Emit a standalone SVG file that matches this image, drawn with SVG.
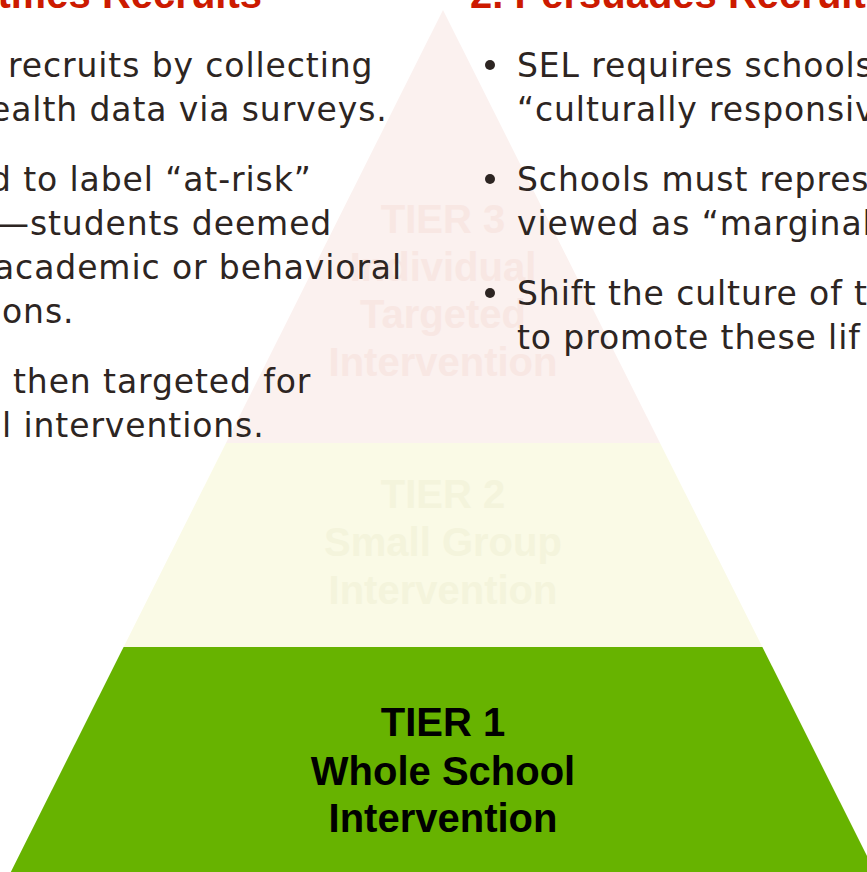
<svg xmlns="http://www.w3.org/2000/svg" width="867" height="872" viewBox="0 0 867 872">
  <style>
    .body { font-family: "DejaVu Sans", "Noto Sans", sans-serif; font-size: 33px; letter-spacing: 0.9px; fill: #2d2522; }
    .head { font-family: "Liberation Sans", Arial, sans-serif; font-weight: bold; font-size: 40px; fill: #cc1a00; }
    .tier { font-family: "Liberation Sans", Arial, sans-serif; font-weight: bold; font-size: 40px; text-anchor: middle; }
    .bullet { fill: #2d2522; }
  </style>
  <rect width="867" height="872" fill="#ffffff"/>

  <g id="tier3">
    <polygon points="443,10 660,443 226,443" fill="#fbf1ef"/>
    <g class="tier" fill="#f8e7e3">
      <text x="443" y="233">TIER 3</text>
      <text x="443" y="280.5">Individual</text>
      <text x="443" y="328">Targeted</text>
      <text x="443" y="375.5">Intervention</text>
    </g>
  </g>

  <g id="tier2">
    <polygon points="226,443 660,443 762.4,647 123.6,647" fill="#fafae6"/>
    <g class="tier" fill="#f4f4dc">
      <text x="443" y="508">TIER 2</text>
      <text x="443" y="556">Small Group</text>
      <text x="443" y="604">Intervention</text>
    </g>
  </g>

  <g id="tier1">
    <polygon points="123.6,647 762.4,647 875,872 10.8,872" fill="#67b300"/>
    <g class="tier" fill="#000000">
      <text x="443" y="736">TIER 1</text>
      <text x="443" y="784.5">Whole School</text>
      <text x="443" y="832">Intervention</text>
    </g>
  </g>

  <g id="left-column">
    <text class="head" x="262" y="8" text-anchor="end">tifies Recruits</text>
    <text class="body" x="8" y="77">recruits by collecting</text>
    <text class="body" x="-10" y="121">ealth data via surveys.</text>
    <text class="body" x="-10" y="191">d to label “at-risk”</text>
    <text class="body" x="-4" y="235">—students deemed</text>
    <text class="body" x="-6" y="279">academic or behavioral</text>
    <text class="body" x="2" y="323">ons.</text>
    <text class="body" x="13" y="393">then targeted for</text>
    <text class="body" x="2" y="437">l interventions.</text>
  </g>

  <g id="right-column">
    <text class="head" x="470" y="8">2. Persuades Recruits</text>
    <circle class="bullet" cx="490" cy="65" r="5"/>
    <text class="body" x="517" y="77">SEL requires schools</text>
    <text class="body" x="517" y="121">“culturally responsiv</text>
    <circle class="bullet" cx="490" cy="179" r="5"/>
    <text class="body" x="517" y="191">Schools must repres</text>
    <text class="body" x="517" y="235">viewed as “marginal</text>
    <circle class="bullet" cx="490" cy="293" r="5"/>
    <text class="body" x="517" y="305">Shift the culture of t</text>
    <text class="body" x="517" y="349">to promote these lif</text>
  </g>
</svg>
